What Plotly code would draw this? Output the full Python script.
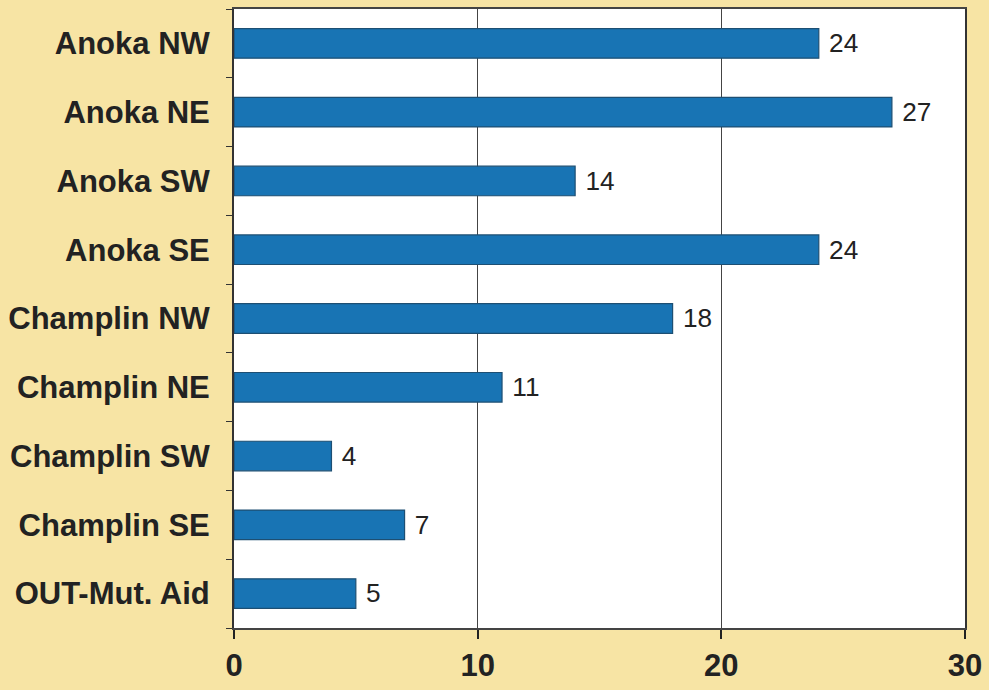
import plotly.graph_objects as go

categories = ["Anoka NW", "Anoka NE", "Anoka SW", "Anoka SE", "Champlin NW",
              "Champlin NE", "Champlin SW", "Champlin SE", "OUT-Mut. Aid"]
values = [24, 27, 14, 24, 18, 11, 4, 7, 5]
x_ticks = [0, 10, 20, 30]

fig = go.Figure()
fig.add_trace(go.Bar(
    x=values, y=categories, orientation="h",
    marker=dict(color="#1874b4", line=dict(color="#1d4f73", width=1.2)),
    text=["\u00a0" + str(v) for v in values], textposition="outside",
    textfont=dict(family="Liberation Sans, Arial, sans-serif", size=31, color="#222222"),
    cliponaxis=False, width=0.43,
))

fig.update_layout(
    width=989, height=690,
    margin=dict(l=234, r=19, t=7, b=58),
    paper_bgcolor="#f7e4a4", plot_bgcolor="#ffffff",
    showlegend=False,
    font=dict(family="Liberation Sans, Arial, sans-serif", color="#222222"),
)
fig.update_xaxes(
    range=[0, 30], tickvals=x_ticks, ticktext=[f"<b>{t}</b>" for t in x_ticks],
    showgrid=True, gridcolor="#444444", gridwidth=1, zeroline=False,
    showline=True, linecolor="#444444", linewidth=2, mirror=True,
    ticks="outside", ticklen=9, tickcolor="#222222", tickwidth=2,
    tickfont=dict(size=31, color="#222222"),
)
fig.update_yaxes(
    categoryorder="array", categoryarray=categories, autorange="reversed",
    ticktext=[f"<b>{c}</b>" for c in categories], tickvals=categories,
    showgrid=False, showline=True, linecolor="#333333", linewidth=2, mirror=True,
    ticks="outside", tickson="boundaries", ticklen=6, tickcolor="#333333",
    tickfont=dict(size=31, color="#222222"), ticklabelstandoff=16,
)

fig.write_html("out.html", config={"displayModeBar": False},
               post_script="document.body.style.margin='0';")
